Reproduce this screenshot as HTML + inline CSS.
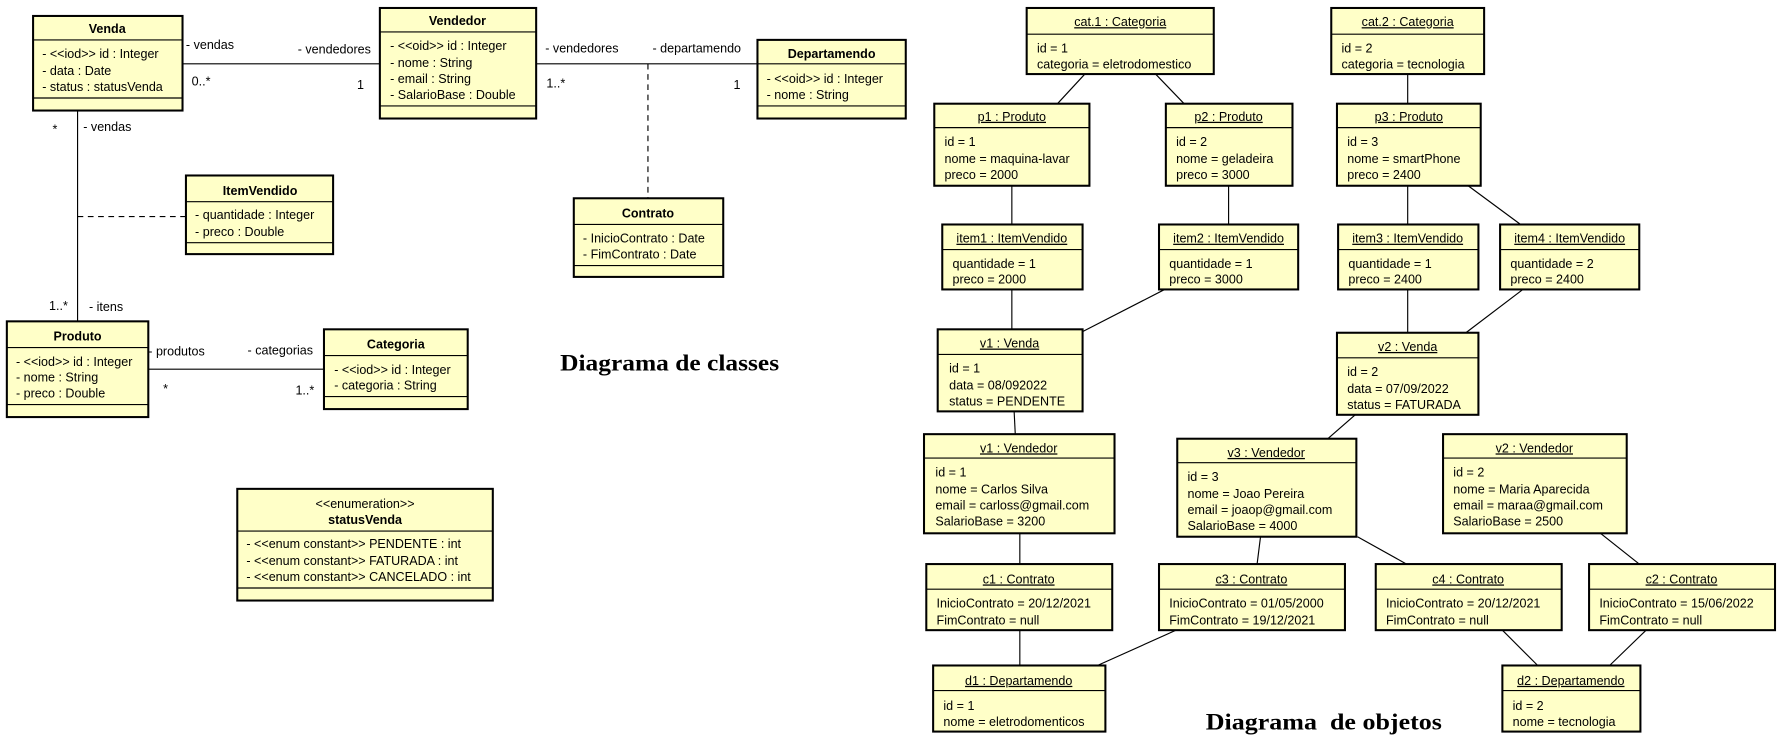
<!DOCTYPE html>
<html><head><meta charset="utf-8"><style>
html,body{margin:0;padding:0;background:#fff;}
svg{display:block;}
text{font-family:"Liberation Sans",Arial,sans-serif;font-size:11px;fill:#000;}
.t{font-weight:bold;text-anchor:middle;}
.c{text-anchor:middle;}
.u{text-anchor:middle;text-decoration:underline;}
.big{font-family:"Liberation Serif",serif;font-weight:bold;font-size:20px;}
rect{fill:#ffffc8;stroke:#000;stroke-width:1.8;}
line{stroke:#000;stroke-width:1;}
.d{stroke-dasharray:5,4;}
</style></head><body>
<svg width="1783" height="735" viewBox="0 0 1563 645" preserveAspectRatio="none">
<line x1="160" y1="56" x2="333" y2="56"/>
<line x1="470" y1="56" x2="664" y2="56"/>
<line class="d" x1="568" y1="56" x2="568" y2="174"/>
<line x1="68" y1="97" x2="68" y2="282"/>
<line class="d" x1="68" y1="190" x2="163" y2="190"/>
<line x1="130" y1="324" x2="284" y2="324"/>
<text x="163" y="43">- vendas</text><text x="168" y="75">0..*</text>
<text x="261" y="47">- vendedores</text><text x="313" y="78">1</text>
<text x="478" y="46">- vendedores</text><text x="479" y="77">1..*</text>
<text x="572" y="46">- departamendo</text><text x="643" y="78">1</text>
<text x="46" y="117">*</text><text x="73" y="115">- vendas</text>
<text x="43" y="272">1..*</text><text x="78" y="273">- itens</text>
<text x="130" y="312">- produtos</text><text x="143" y="345">*</text>
<text x="217" y="311">- categorias</text><text x="259" y="346">1..*</text>

<rect x="29" y="14" width="131" height="83"/>
<line x1="29" y1="35" x2="160" y2="35"/><line x1="29" y1="86" x2="160" y2="86"/>
<text class="t" x="94" y="29">Venda</text>
<text x="37" y="51">- &lt;&lt;iod&gt;&gt; id : Integer</text><text x="37" y="66">- data : Date</text><text x="37" y="80">- status : statusVenda</text>
<rect x="333" y="7" width="137" height="97"/>
<line x1="333" y1="28" x2="470" y2="28"/><line x1="333" y1="93" x2="470" y2="93"/>
<text class="t" x="401" y="22">Vendedor</text>
<text x="342" y="44">- &lt;&lt;oid&gt;&gt; id : Integer</text><text x="342" y="59">- nome : String</text><text x="342" y="73">- email : String</text><text x="342" y="87">- SalarioBase : Double</text>
<rect x="664" y="35" width="130" height="69"/>
<line x1="664" y1="56" x2="794" y2="56"/><line x1="664" y1="93" x2="794" y2="93"/>
<text class="t" x="729" y="51">Departamendo</text>
<text x="672" y="73">- &lt;&lt;oid&gt;&gt; id : Integer</text><text x="672" y="87">- nome : String</text>
<rect x="503" y="174" width="131" height="69"/>
<line x1="503" y1="197" x2="634" y2="197"/><line x1="503" y1="233" x2="634" y2="233"/>
<text class="t" x="568" y="191">Contrato</text>
<text x="511" y="213">- InicioContrato : Date</text><text x="511" y="227">- FimContrato : Date</text>
<rect x="163" y="154" width="129" height="69"/>
<line x1="163" y1="177" x2="292" y2="177"/><line x1="163" y1="213" x2="292" y2="213"/>
<text class="t" x="228" y="171">ItemVendido</text>
<text x="171" y="192">- quantidade : Integer</text><text x="171" y="207">- preco : Double</text>
<rect x="6" y="282" width="124" height="84"/>
<line x1="6" y1="305" x2="130" y2="305"/><line x1="6" y1="355" x2="130" y2="355"/>
<text class="t" x="68" y="299">Produto</text>
<text x="14" y="321">- &lt;&lt;iod&gt;&gt; id : Integer</text><text x="14" y="335">- nome : String</text><text x="14" y="349">- preco : Double</text>
<rect x="284" y="289" width="126" height="70"/>
<line x1="284" y1="312" x2="410" y2="312"/><line x1="284" y1="348" x2="410" y2="348"/>
<text class="t" x="347" y="306">Categoria</text>
<text x="293" y="328">- &lt;&lt;iod&gt;&gt; id : Integer</text><text x="293" y="342">- categoria : String</text>
<rect x="208" y="429" width="224" height="98"/>
<line x1="208" y1="466" x2="432" y2="466"/><line x1="208" y1="516" x2="432" y2="516"/>
<text class="c" x="320" y="446">&lt;&lt;enumeration&gt;&gt;</text>
<text class="t" x="320" y="460">statusVenda</text>
<text x="216" y="481">- &lt;&lt;enum constant&gt;&gt; PENDENTE : int</text>
<text x="216" y="496">- &lt;&lt;enum constant&gt;&gt; FATURADA : int</text>
<text x="216" y="510">- &lt;&lt;enum constant&gt;&gt; CANCELADO : int</text>
<text class="big" x="491" y="325" textLength="192" lengthAdjust="spacingAndGlyphs">Diagrama de classes</text>

<line x1="951" y1="65" x2="927" y2="91"/><line x1="1013" y1="65" x2="1038" y2="91"/>
<line x1="1234" y1="65" x2="1234" y2="91"/>
<line x1="887" y1="163" x2="887" y2="197"/><line x1="1077" y1="163" x2="1077" y2="197"/>
<line x1="1234" y1="163" x2="1234" y2="197"/><line x1="1287" y1="163" x2="1333" y2="197"/>
<line x1="887" y1="254" x2="887" y2="289"/><line x1="1021" y1="254" x2="949" y2="291"/>
<line x1="1234" y1="254" x2="1234" y2="292"/><line x1="1335" y1="254" x2="1285" y2="292"/>
<line x1="889" y1="361" x2="890" y2="381"/><line x1="1188" y1="364" x2="1164" y2="385"/>
<line x1="894" y1="468" x2="894" y2="495"/><line x1="1105" y1="471" x2="1102" y2="495"/>
<line x1="1190" y1="471" x2="1233" y2="495"/><line x1="1403" y1="468" x2="1437" y2="495"/>
<line x1="894" y1="553" x2="894" y2="584"/><line x1="1031" y1="553" x2="962" y2="584"/>
<line x1="1317" y1="553" x2="1348" y2="584"/><line x1="1443" y1="553" x2="1411" y2="584"/>

<rect x="900" y="7" width="164" height="58"/><line x1="900" y1="30" x2="1064" y2="30"/>
<text class="u" x="982" y="23">cat.1 : Categoria</text>
<text x="909" y="46">id = 1</text><text x="909" y="60">categoria = eletrodomestico</text>
<rect x="1167" y="7" width="134" height="58"/><line x1="1167" y1="30" x2="1301" y2="30"/>
<text class="u" x="1234" y="23">cat.2 : Categoria</text>
<text x="1176" y="46">id = 2</text><text x="1176" y="60">categoria = tecnologia</text>
<rect x="819" y="91" width="136" height="72"/><line x1="819" y1="112" x2="955" y2="112"/>
<text class="u" x="887" y="106">p1 : Produto</text>
<text x="828" y="128">id = 1</text><text x="828" y="143">nome = maquina-lavar</text><text x="828" y="157">preco = 2000</text>
<rect x="1022" y="91" width="111" height="72"/><line x1="1022" y1="112" x2="1133" y2="112"/>
<text class="u" x="1077" y="106">p2 : Produto</text>
<text x="1031" y="128">id = 2</text><text x="1031" y="143">nome = geladeira</text><text x="1031" y="157">preco = 3000</text>
<rect x="1172" y="91" width="126" height="72"/><line x1="1172" y1="112" x2="1298" y2="112"/>
<text class="u" x="1235" y="106">p3 : Produto</text>
<text x="1181" y="128">id = 3</text><text x="1181" y="143">nome = smartPhone</text><text x="1181" y="157">preco = 2400</text>
<rect x="826" y="197" width="123" height="57"/><line x1="826" y1="219" x2="949" y2="219"/>
<text class="u" x="887" y="213">item1 : ItemVendido</text>
<text x="835" y="235">quantidade = 1</text><text x="835" y="249">preco = 2000</text>
<rect x="1016" y="197" width="122" height="57"/><line x1="1016" y1="219" x2="1138" y2="219"/>
<text class="u" x="1077" y="213">item2 : ItemVendido</text>
<text x="1025" y="235">quantidade = 1</text><text x="1025" y="249">preco = 3000</text>
<rect x="1173" y="197" width="123" height="57"/><line x1="1173" y1="219" x2="1296" y2="219"/>
<text class="u" x="1234" y="213">item3 : ItemVendido</text>
<text x="1182" y="235">quantidade = 1</text><text x="1182" y="249">preco = 2400</text>
<rect x="1315" y="197" width="122" height="57"/><line x1="1315" y1="219" x2="1437" y2="219"/>
<text class="u" x="1376" y="213">item4 : ItemVendido</text>
<text x="1324" y="235">quantidade = 2</text><text x="1324" y="249">preco = 2400</text>
<rect x="822" y="289" width="127" height="72"/><line x1="822" y1="311" x2="949" y2="311"/>
<text class="u" x="885" y="305">v1 : Venda</text>
<text x="832" y="327">id = 1</text><text x="832" y="342">data = 08/092022</text><text x="832" y="356">status = PENDENTE</text>
<rect x="1172" y="292" width="124" height="72"/><line x1="1172" y1="314" x2="1296" y2="314"/>
<text class="u" x="1234" y="308">v2 : Venda</text>
<text x="1181" y="330">id = 2</text><text x="1181" y="345">data = 07/09/2022</text><text x="1181" y="359">status = FATURADA</text>
<rect x="810" y="381" width="167" height="87"/><line x1="810" y1="402" x2="977" y2="402"/>
<text class="u" x="893" y="397">v1 : Vendedor</text>
<text x="820" y="418">id = 1</text><text x="820" y="433">nome = Carlos Silva</text><text x="820" y="447">email = carloss@gmail.com</text><text x="820" y="461">SalarioBase = 3200</text>
<rect x="1032" y="385" width="157" height="86"/><line x1="1032" y1="406" x2="1189" y2="406"/>
<text class="u" x="1110" y="401">v3 : Vendedor</text>
<text x="1041" y="422">id = 3</text><text x="1041" y="437">nome = Joao Pereira</text><text x="1041" y="451">email = joaop@gmail.com</text><text x="1041" y="465">SalarioBase = 4000</text>
<rect x="1265" y="381" width="161" height="87"/><line x1="1265" y1="402" x2="1426" y2="402"/>
<text class="u" x="1345" y="397">v2 : Vendedor</text>
<text x="1274" y="418">id = 2</text><text x="1274" y="433">nome = Maria Aparecida</text><text x="1274" y="447">email = maraa@gmail.com</text><text x="1274" y="461">SalarioBase = 2500</text>
<rect x="812" y="495" width="163" height="58"/><line x1="812" y1="517" x2="975" y2="517"/>
<text class="u" x="893" y="512">c1 : Contrato</text>
<text x="821" y="533">InicioContrato = 20/12/2021</text><text x="821" y="548">FimContrato = null</text>
<rect x="1016" y="495" width="163" height="58"/><line x1="1016" y1="517" x2="1179" y2="517"/>
<text class="u" x="1097" y="512">c3 : Contrato</text>
<text x="1025" y="533">InicioContrato = 01/05/2000</text><text x="1025" y="548">FimContrato = 19/12/2021</text>
<rect x="1206" y="495" width="163" height="58"/><line x1="1206" y1="517" x2="1369" y2="517"/>
<text class="u" x="1287" y="512">c4 : Contrato</text>
<text x="1215" y="533">InicioContrato = 20/12/2021</text><text x="1215" y="548">FimContrato = null</text>
<rect x="1393" y="495" width="163" height="58"/><line x1="1393" y1="517" x2="1556" y2="517"/>
<text class="u" x="1474" y="512">c2 : Contrato</text>
<text x="1402" y="533">InicioContrato = 15/06/2022</text><text x="1402" y="548">FimContrato = null</text>
<rect x="818" y="584" width="151" height="58"/><line x1="818" y1="606" x2="969" y2="606"/>
<text class="u" x="893" y="601">d1 : Departamendo</text>
<text x="827" y="623">id = 1</text><text x="827" y="637">nome = eletrodomenticos</text>
<rect x="1317" y="584" width="121" height="58"/><line x1="1317" y1="606" x2="1438" y2="606"/>
<text class="u" x="1377" y="601">d2 : Departamendo</text>
<text x="1326" y="623">id = 2</text><text x="1326" y="637">nome = tecnologia</text>
<text class="big" x="1057" y="640" xml:space="preserve" textLength="207" lengthAdjust="spacingAndGlyphs">Diagrama  de objetos</text>
</svg>
</body></html>
